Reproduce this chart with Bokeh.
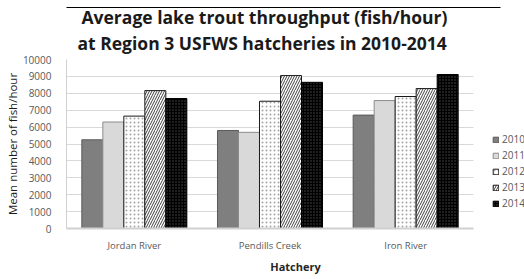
from bokeh.plotting import figure
from bokeh.models import (Range1d, Legend, LegendItem, ColumnDataSource, FixedTicker,
                          BoxAnnotation, Title, LinearAxis)
from bokeh.transform import dodge
from bokeh.embed import file_html
from bokeh.resources import INLINE

hatcheries = ["Jordan River", "Pendills Creek", "Iron River"]
years = ["2010", "2011", "2012", "2013", "2014"]
v2010 = [5250, 5800, 6710]
v2011 = [6300, 5690, 7570]
v2012 = [6650, 7530, 7810]
v2013 = [8160, 9050, 8280]
v2014 = [7690, 8650, 9110]
y_ticks = [0, 1000, 2000, 3000, 4000, 5000, 6000, 7000, 8000, 9000, 10000]

title_1 = "Average lake trout throughput (fish/hour)"
title_2 = "at Region 3 USFWS hatcheries in 2010-2014"
x_title = "Hatchery"
y_title = "Mean number of fish/hour"

n = len(hatcheries)
centers = [i + 0.5 for i in range(n)]
source = ColumnDataSource(dict(xc=centers, y2010=v2010, y2011=v2011,
                               y2012=v2012, y2013=v2013, y2014=v2014))

# frame 458 px wide; the 3 categories take 407 px, legend sits in the rest
p = figure(width=524, height=279, x_range=Range1d(0, n * 458 / 407),
           y_range=Range1d(0, 10000), output_backend="svg", toolbar_location=None,
           min_border_left=66, min_border_right=0, min_border_top=59,
           min_border_bottom=51)
p.outline_line_color = None
p.title = None

tkw = dict(align="left", vertical_align="top", text_font="Open Sans",
           text_font_size="17.5px", text_font_style="bold", text_color="#1a1a1a")
p.add_layout(Title(text=title_2, offset=11, standoff=6, **tkw), "above")
p.add_layout(Title(text=title_1, offset=15, standoff=-6, **tkw), "above")

bw = 0.1548
styles = {
    "2010": dict(fill_color="#7f7f7f", line_color="#5a5a5a"),
    "2011": dict(fill_color="#d9d9d9", line_color="#8c8c8c"),
    "2012": dict(fill_color="white", line_color="#1a1a1a", hatch_pattern="dot",
                 hatch_color="#a6a6a6", hatch_scale=4, hatch_weight=0.5),
    "2013": dict(fill_color="white", line_color="#1a1a1a", hatch_pattern="right_diagonal_line",
                 hatch_color="#404040", hatch_scale=5, hatch_weight=1.0),
    "2014": dict(fill_color="black", line_color="black", hatch_pattern="dot",
                 hatch_color="#4d4d4d", hatch_scale=3, hatch_weight=0.6),
}

# hide grid lines to the right of the category area
p.add_layout(BoxAnnotation(left=n, fill_color="white", fill_alpha=1, line_color=None,
                           level="underlay"))

renderers = []
for i, yr in enumerate(years):
    r = p.vbar(x=dodge("xc", (i - 2) * bw), top="y" + yr, width=bw,
               source=source, line_width=1, **styles[yr])
    renderers.append(r)

xax = p.below[0]
yax = p.left[0]

p.ygrid.ticker = FixedTicker(ticks=y_ticks)
p.xgrid.grid_line_color = None
p.ygrid.grid_line_color = "#d9d9d9"
p.ygrid.grid_line_width = 1

yax.ticker = FixedTicker(ticks=y_ticks)
xax.ticker = FixedTicker(ticks=centers)
xax.major_label_overrides = {c: h for c, h in zip(centers, hatcheries)}
xax.bounds = (0, n)

for ax in (xax, yax):
    ax.major_tick_line_color = None
    ax.minor_tick_line_color = None
    ax.axis_line_color = "#d0d0d0"
    ax.major_label_text_color = "#595959"
    ax.major_label_text_font = "Open Sans"
    ax.axis_label_text_font = "Open Sans"
xax.axis_line_width = 2
yax.axis_line_width = 1
yax.major_label_text_font_size = "10px"
yax.major_label_standoff = 9
yax.axis_label = y_title
yax.axis_label_text_font_size = "11.5px"
yax.axis_label_text_font_style = "normal"
yax.axis_label_text_color = "#1a1a1a"
yax.axis_label_standoff = 0

xax.major_label_text_font_size = "9.5px"
xax.major_label_standoff = 4
xax.axis_label = x_title
xax.axis_label_text_font_size = "11px"
xax.axis_label_text_font_style = "bold"
xax.axis_label_text_color = "#262626"
xax.axis_label_standoff = 4

# thin black rule across the top of the page (no ticks, no labels)
top_rule = LinearAxis(ticker=FixedTicker(ticks=[]), axis_line_color="black",
                      axis_line_width=1, major_tick_line_color=None,
                      minor_tick_line_color=None, major_tick_out=0, major_tick_in=0,
                      minor_tick_out=0, minor_tick_in=0, major_label_standoff=0,
                      bounds=(0, n * 434 / 407))
p.add_layout(top_rule, "above")

legend = Legend(items=[LegendItem(label=yr, renderers=[r]) for yr, r in zip(years, renderers)],
                location=(426, 18), orientation="vertical",
                glyph_width=7, glyph_height=7, label_height=12, spacing=2,
                label_standoff=3, padding=0, margin=0,
                label_text_font="Open Sans", label_text_font_size="10px",
                label_text_color="#595959", border_line_color=None,
                background_fill_alpha=0)
p.add_layout(legend)

open("out.html", "w").write(file_html(p, INLINE))
